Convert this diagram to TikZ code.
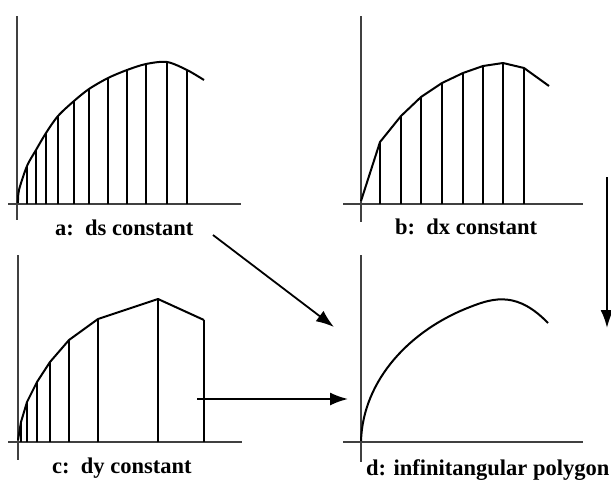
\documentclass[tikz,border=0pt]{standalone}
\usepackage{fontspec}
\setmainfont{Liberation Serif}
\usetikzlibrary{arrows.meta}
\begin{document}
\begin{tikzpicture}[x=1pt,y=-1pt,
  axis/.style={line width=1.5pt,black!75},
  curve/.style={line width=2pt,line join=round},
  strip/.style={line width=1.5pt},
  lab/.style={anchor=base west,inner sep=0pt,font=\fontsize{22.5}{23}\selectfont\bfseries},
  arr/.style={line width=1.8pt,-{Latex[length=18pt,width=13pt]}}]
\useasboundingbox (0,0) rectangle (611,480);
% panel a
\draw[axis] (17,16) -- (17,220);
\draw[axis] (8,204) -- (241,204);
\draw[curve] plot[smooth,tension=0.5] coordinates {(18,203) (19,190) (27,166) (36,150) (46,133) (58,116) (74,101) (89,89) (108,78) (127,70) (146,64) (167,62) (187,70) (204,80)};
\foreach \x/\y in {27/166,36/150,46/133,58/116,74/101,89/89,108/78,127/70,146/64,167/62,187/70}
  \draw[strip] (\x,204) -- (\x,\y);
\node[lab] (la) at (55,235) {a:\, ds constant};
% panel b
\draw[axis] (361,16) -- (361,222);
\draw[axis] (343,204) -- (583,204);
\draw[curve] (361,201) -- (380,142) -- (401,116) -- (421,97) -- (442,83) -- (463,73) -- (483,66) -- (503,63) -- (524,68) -- (549,86);
\foreach \x/\y in {380/142,401/116,421/97,442/83,463/73,483/66,503/63,524/68}
  \draw[strip] (\x,204) -- (\x,\y);
\node[lab] (lb) at (395,234) {b:\, dx constant};
% panel c
\draw[axis] (18,255) -- (18,460);
\draw[axis] (8,442) -- (242,442);
\draw[curve] (18,440) -- (21,422) -- (27,402) -- (37,382) -- (50,362) -- (69,340) -- (98,319) -- (158,299) -- (204,320);
\foreach \x/\y in {21/422,27/402,37/382,50/362,69/340,98/319,158/299,204/320}
  \draw[strip] (\x,442) -- (\x,\y);
\node[lab] (lc) at (52,473) {c:\, dy constant};
% panel d
\draw[axis] (361,255) -- (361,462);
\draw[axis] (343,442) -- (583,442);
\draw[curve] (361,441) .. controls (363,380) and (410,330) .. (470,307)
  .. controls (495,297) and (518,292) .. (548,323);
\node[lab] (ld) at (366,475) {d: infinitangular polygon};
% arrows
\coordinate (a1) at (213,235);
\coordinate (a2) at (334,327);
\coordinate (c1) at (197,399);
\coordinate (c2) at (348,399);
\coordinate (b1) at (607,177);
\coordinate (b2) at (607,328);
\draw[arr] (a1) -- (a2);
\draw[arr] (c1) -- (c2);
\draw[arr,line width=2.2pt] (b1) -- (b2);
\end{tikzpicture}
\end{document}
